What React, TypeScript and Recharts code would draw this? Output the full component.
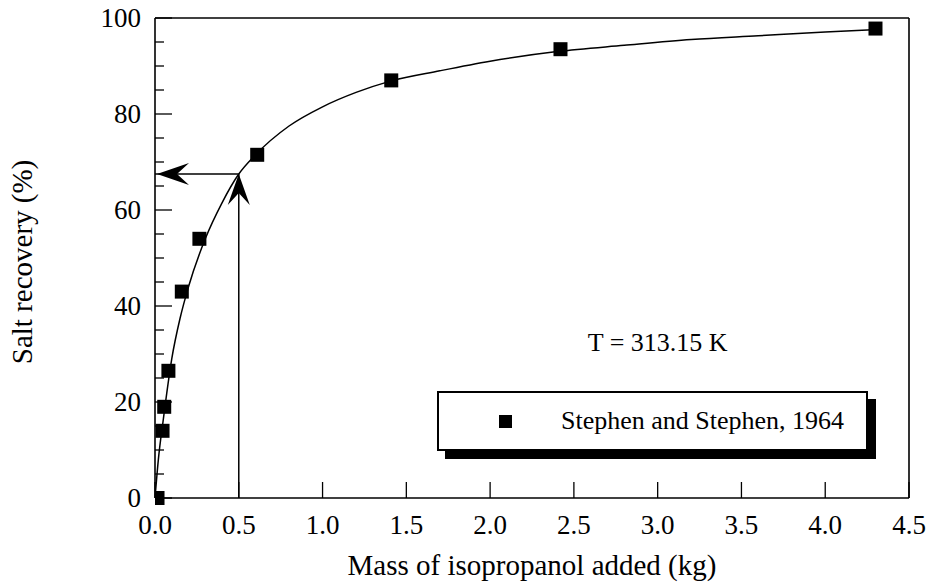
import React from 'react';
import { ComposedChart, Line, Scatter, XAxis, YAxis, ReferenceLine, ReferenceDot, Legend } from 'recharts';

// Measured recovery (Stephen and Stephen, 1964), T = 313.15 K
const massKg = [0.015, 0.045, 0.055, 0.08, 0.16, 0.265, 0.61, 1.41, 2.42, 4.3];
const recoveryPct = [0, 14, 19, 26.5, 43, 54, 71.5, 87, 93.5, 97.8];

// Smooth fitted curve through the measurements
const fitMassKg = [0, 0.02, 0.05, 0.1, 0.15, 0.2, 0.3, 0.4, 0.5, 0.6, 0.8, 1.0, 1.2, 1.4, 1.7, 2.0, 2.4, 2.8, 3.2, 3.6, 4.0, 4.3];
const fitRecoveryPct = [0, 8, 16.5, 29, 37.5, 44, 54, 61.5, 67.5, 71.5, 77.5, 81.5, 84.5, 86.8, 89, 91, 93, 94.3, 95.5, 96.3, 97.1, 97.6];

const xTicks = [0, 0.5, 1, 1.5, 2, 2.5, 3, 3.5, 4, 4.5];
const yTicks = [0, 5, 10, 15, 20, 25, 30, 35, 40, 45, 50, 55, 60, 65, 70, 75, 80, 85, 90, 95, 100];

// Read-off example: 0.5 kg of isopropanol gives 67.5 % recovery
const readMass = 0.5;
const readRecovery = 67.5;

const xMin = 0;
const xMax = 4.5;
const yMin = 0;
const yMax = 100;

const points = massKg.map((x, i) => ({ x, y: recoveryPct[i] }));
const curve = fitMassKg.map((x, i) => ({ x, y: fitRecoveryPct[i] }));

const FONT = "'Liberation Serif', 'Times New Roman', serif";
const INK = '#000';

const LeftTick = (props: any) => {
  const { x, y, payload } = props;
  const major = payload.value % 20 === 0;
  return (
    <g>
      <line x1={x} x2={x + (major ? 17 : 9)} y1={y} y2={y} stroke={INK} strokeWidth={1.3} />
      {major && (
        <text x={x - 14} y={y} textAnchor="end" dominantBaseline="central" fontFamily={FONT} fontSize={27} fill={INK}>
          {payload.value}
        </text>
      )}
    </g>
  );
};

const RightTick = (props: any) => {
  const { x, y, payload } = props;
  const major = payload.value % 20 === 0;
  return <line x1={x} x2={x - (major ? 17 : 9)} y1={y} y2={y} stroke={INK} strokeWidth={1.3} />;
};

const BottomTick = (props: any) => {
  const { x, y, payload } = props;
  return (
    <g>
      <line x1={x} x2={x} y1={y} y2={y - 16} stroke={INK} strokeWidth={1.3} />
      <text x={x} y={y + 27} textAnchor="middle" dominantBaseline="central" fontFamily={FONT} fontSize={27} fill={INK}>
        {payload.value.toFixed(1)}
      </text>
    </g>
  );
};

const TopTick = (props: any) => {
  const { x, y } = props;
  return <line x1={x} x2={x} y1={y} y2={y + 16} stroke={INK} strokeWidth={1.3} />;
};

const SquareMarker = (props: any) => {
  const { cx, cy } = props;
  return <rect x={cx - 7} y={cy - 7} width={14} height={14} fill={INK} />;
};

const ArrowLeft = (props: any) => {
  const { cx, cy } = props;
  const tx = cx + 2;
  return <path d={`M${tx},${cy} L${tx + 32},${cy - 11} L${tx + 20},${cy} L${tx + 32},${cy + 11} Z`} fill={INK} />;
};

const ArrowUp = (props: any) => {
  const { cx, cy } = props;
  return <path d={`M${cx},${cy} L${cx - 11},${cy + 31} L${cx},${cy + 19} L${cx + 11},${cy + 31} Z`} fill={INK} />;
};

const TempLabel = (props: any) => {
  const { cx, cy } = props;
  return (
    <text x={cx} y={cy} textAnchor="middle" dominantBaseline="central" fontFamily={FONT} fontSize={26} fill={INK}>
      T = 313.15 K
    </text>
  );
};

const YTitle = (props: any) => {
  const { viewBox } = props;
  const cy = viewBox.y + viewBox.height / 2 + 4;
  return (
    <text
      transform={`translate(22, ${cy}) rotate(-90)`}
      textAnchor="middle"
      dominantBaseline="central"
      fontFamily={FONT}
      fontSize={29}
      fill={INK}
    >
      Salt recovery (%)
    </text>
  );
};

const XTitle = (props: any) => {
  const { viewBox } = props;
  return (
    <text
      x={viewBox.x + viewBox.width / 2}
      y={565}
      textAnchor="middle"
      dominantBaseline="central"
      fontFamily={FONT}
      fontSize={29}
      fill={INK}
    >
      Mass of isopropanol added (kg)
    </text>
  );
};

const LegendBox = ({ payload }: any) => {
  const items = (payload || []).filter((p: any) => p.type !== 'none');
  return (
    <div
      style={{
        boxSizing: 'border-box',
        width: 431,
        height: 60,
        border: '2px solid #000',
        background: '#fff',
        boxShadow: '8px 8px 0 #000',
        display: 'flex',
        alignItems: 'center',
        fontFamily: FONT,
        fontSize: 26,
        color: INK,
      }}
    >
      {items.map((item: any) => (
        <div key={item.value} style={{ display: 'flex', alignItems: 'center' }}>
          <span style={{ display: 'inline-block', width: 13, height: 13, background: INK, marginLeft: 60, marginRight: 49 }} />
          <span>{item.value}</span>
        </div>
      ))}
    </div>
  );
};

export default function App() {
  return (
    <div style={{ position: 'absolute', left: 0, top: 0, width: 930, height: 586, background: '#fff' }}>
      <ComposedChart width={930} height={586} margin={{ top: 18, right: 21, bottom: 0, left: 0 }}>
        <XAxis
          type="number"
          dataKey="x"
          domain={[xMin, xMax]}
          ticks={xTicks}
          interval={0}
          allowDataOverflow
          height={88}
          tickSize={0}
          tickMargin={0}
          tickLine={false}
          tick={<BottomTick />}
          axisLine={false}
          label={<XTitle />}
        />
        <XAxis
          xAxisId="top"
          orientation="top"
          type="number"
          dataKey="x"
          domain={[xMin, xMax]}
          ticks={xTicks}
          interval={0}
          height={0}
          tickSize={0}
          tickMargin={0}
          tickLine={false}
          tick={<TopTick />}
          axisLine={false}
        />
        <YAxis
          type="number"
          domain={[yMin, yMax]}
          ticks={yTicks}
          interval={0}
          width={155}
          tickSize={0}
          tickMargin={0}
          tickLine={false}
          tick={<LeftTick />}
          axisLine={false}
          label={<YTitle />}
        />
        <YAxis
          yAxisId="right"
          orientation="right"
          type="number"
          domain={[yMin, yMax]}
          ticks={yTicks}
          interval={0}
          width={0}
          tickSize={0}
          tickMargin={0}
          tickLine={false}
          tick={<RightTick />}
          axisLine={false}
        />
        <Legend
          layout="horizontal"
          verticalAlign="middle"
          align="center"
          wrapperStyle={{ left: 437, top: 391, width: 445, height: 70 }}
          content={<LegendBox />}
        />

        {/* plot frame */}
        <ReferenceLine segment={[{ x: xMin, y: yMin }, { x: xMax, y: yMin }]} stroke={INK} strokeWidth={1.6} />
        <ReferenceLine segment={[{ x: xMin, y: yMax }, { x: xMax, y: yMax }]} stroke={INK} strokeWidth={1.6} />
        <ReferenceLine segment={[{ x: xMin, y: yMin }, { x: xMin, y: yMax }]} stroke={INK} strokeWidth={1.6} />
        <ReferenceLine segment={[{ x: xMax, y: yMin }, { x: xMax, y: yMax }]} stroke={INK} strokeWidth={1.6} />

        <Line
          data={curve}
          dataKey="y"
          type="monotone"
          stroke={INK}
          strokeWidth={1.5}
          dot={false}
          activeDot={false}
          legendType="none"
          isAnimationActive={false}
        />
        <Scatter
          data={points}
          dataKey="y"
          name="Stephen and Stephen, 1964"
          shape={<SquareMarker />}
          isAnimationActive={false}
        />

        <ReferenceLine
          segment={[{ x: xMin, y: readRecovery }, { x: readMass, y: readRecovery }]}
          stroke={INK}
          strokeWidth={1.5}
        />
        <ReferenceLine
          segment={[{ x: readMass, y: yMin }, { x: readMass, y: readRecovery }]}
          stroke={INK}
          strokeWidth={1.5}
        />
        <ReferenceDot x={xMin} y={readRecovery} shape={<ArrowLeft />} />
        <ReferenceDot x={readMass} y={readRecovery} shape={<ArrowUp />} />
        <ReferenceDot x={3.0} y={32.5} shape={<TempLabel />} />
      </ComposedChart>
    </div>
  );
}
